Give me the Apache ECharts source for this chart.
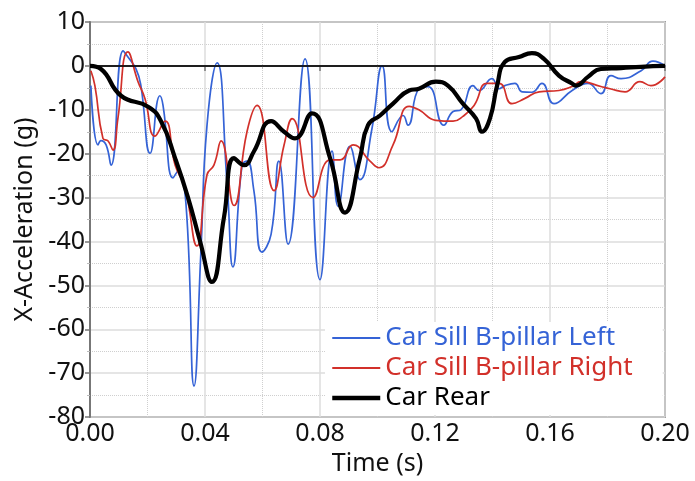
<!DOCTYPE html>
<html>
<head>
<meta charset="utf-8">
<script src="https://cdn.jsdelivr.net/npm/echarts@6/dist/echarts.min.js"></script>
<style>html,body{margin:0;padding:0;background:#fff}#c{width:695px;height:481px}</style>
</head>
<body>
<div id="c"></div>
<script>
const seriesNames = ['Car Sill B-pillar Left', 'Car Sill B-pillar Right', 'Car Rear'];
const xTicks = [0, 0.04, 0.08, 0.12, 0.16, 0.2];
const yTicks = [-80, -70, -60, -50, -40, -30, -20, -10, 0, 10];

const leftT = [0.0003,0.0028,0.0038,0.0056,0.0073,0.0115,0.0132,0.0160,0.0177,0.0209,0.0243,0.0254,0.0289,0.0306,0.0334,0.0362,0.0386,0.0407,0.0442,0.0477,0.0497,0.0529,0.0546,0.0570,0.0598,0.0630,0.0657,0.0689,0.0748,0.0800,0.0842,0.0863,0.0904,0.0939,0.0981,0.1016,0.1050,0.1089,0.1106,0.1144,0.1176,0.1231,0.1263,0.1290,0.1332,0.1353,0.1398,0.1423,0.1443,0.1478,0.1503,0.1537,0.1572,0.1614,0.1677,0.1732,0.1777,0.1812,0.1847,0.1917,0.1958,0.2000];
const leftV = [-4.5,-18,-17,-18,-22.6,3.4,2,-0.7,-4.5,-19.9,-6.8,-9,-25.5,-24,-31.6,-72.9,-42,-13.5,0.7,-27,-45.8,-22.6,-21.7,-28.4,-42.4,-38.3,-21.7,-40.6,1.6,-48.7,-19.4,-32,-18.3,-25.9,-14.2,0,-15,-11.3,-13.5,-5.2,-4.7,-13.5,-10.4,-10,-4.5,-5.6,-2.9,-5.2,-4.5,-4,-5.9,-6,-4,-8.6,-5.6,-4,-6.3,-2.2,-2.9,-1.1,1.1,0];

const rightT = [0.0003,0.0017,0.0045,0.0063,0.0080,0.0097,0.0132,0.0167,0.0191,0.0226,0.0261,0.0296,0.0330,0.0372,0.0407,0.0431,0.0456,0.0501,0.0546,0.0581,0.0640,0.0675,0.0703,0.0776,0.0835,0.0870,0.0915,0.0974,0.1005,0.1054,0.1110,0.1144,0.1203,0.1263,0.1297,0.1336,0.1381,0.1423,0.1468,0.1513,0.1562,0.1631,0.1677,0.1708,0.1777,0.1809,0.1861,0.1913,0.1951,0.2000];
const rightV = [-1.1,-4.5,-16.5,-17.1,-19.2,-12,3.2,-3.6,-7.4,-16,-12.6,-22.6,-27.7,-41,-24.8,-22.6,-17.1,-31.8,-15,-9,-28.4,-18,-12,-30,-21.4,-21.4,-18,-21.7,-23.2,-18,-9.2,-10,-12.4,-12.6,-11.5,-9,-4,-4,-8.6,-7.4,-5.9,-5.6,-4.7,-3.6,-4.7,-5.2,-5.9,-3.6,-4.5,-2.5];

const rearT = [0,0.0038,0.0108,0.0202,0.0247,0.0296,0.0341,0.0383,0.0424,0.0466,0.0501,0.0536,0.0570,0.0630,0.0675,0.0713,0.0772,0.0835,0.0887,0.0939,0.0967,0.1009,0.1054,0.1110,0.1144,0.1203,0.1245,0.1297,0.1343,0.1363,0.1391,0.1416,0.1443,0.1492,0.1537,0.1579,0.1631,0.1677,0.1690,0.1732,0.1777,0.1847,0.1917,0.2000];
const rearV = [0,-0.7,-6.8,-9.3,-12.6,-21,-30,-40,-49.2,-34.5,-21,-22.6,-19.5,-12.6,-15,-16.5,-10.8,-21,-33.4,-21,-13.5,-11.3,-8.6,-5.6,-5.2,-3.6,-4.5,-8.6,-12,-15,-12,-4.5,0.9,2,2.9,1.6,-2.2,-4,-4.5,-2.5,-0.7,-0.5,-0.2,0];

const colors = ['#3563d6', '#d2302a', '#000000'];
const widths = [1.7, 1.7, 4.2];
const tList = [leftT, rightT, rearT];
const vList = [leftV, rightV, rearV];

const FONT = 'Noto Sans';
const chart = echarts.init(document.getElementById('c'), null, {renderer: 'canvas'});

const series = seriesNames.map((n, i) => ({
  name: n,
  type: 'line',
  data: tList[i].map((t, k) => [t, vList[i][k]]),
  smooth: 0.5,
  symbol: 'none',
  lineStyle: {color: colors[i], width: widths[i]},
  itemStyle: {color: colors[i]},
  z: 3 + i,
  animation: false
}));
series[0].markLine = {
  silent: true, symbol: 'none', label: {show: false},
  lineStyle: {color: '#000', width: 1.5, type: 'solid'},
  data: [{yAxis: 0}], animation: false
};

chart.setOption({
  backgroundColor: '#fff',
  animation: false,
  grid: {left: 90, top: 22, right: 30, bottom: 60, show: true, borderColor: '#555', borderWidth: 1.5, backgroundColor: 'transparent'},
  xAxis: {
    type: 'value', min: xTicks[0], max: xTicks[xTicks.length - 1], interval: 0.04,
    name: 'Time (s)', nameLocation: 'middle', nameGap: 28,
    nameTextStyle: {fontFamily: FONT, fontSize: 25, color: '#111'},
    axisLine: {show: true, lineStyle: {color: '#777', width: 2}},
    axisTick: {show: true, length: 5, lineStyle: {color: '#777', width: 1.5}},
    axisLabel: {fontFamily: FONT, fontSize: 25, color: '#111', margin: 4, formatter: v => v.toFixed(2)},
    splitLine: {show: true, lineStyle: {color: '#dcdcdc', width: 1.5}},
    minorTick: {show: true, splitNumber: 2, length: 3, lineStyle: {color: '#bbb'}},
    minorSplitLine: {show: true, lineStyle: {color: '#cfcfcf', type: 'dotted', width: 1}}
  },
  yAxis: {
    type: 'value', min: yTicks[0], max: yTicks[yTicks.length - 1], interval: 10,
    name: 'X-Acceleration (g)', nameLocation: 'middle', nameGap: 52, nameRotate: 90,
    nameTextStyle: {fontFamily: FONT, fontSize: 25, color: '#111'},
    axisLine: {show: true, lineStyle: {color: '#777', width: 2}},
    axisTick: {show: true, length: 5, lineStyle: {color: '#777', width: 1.5}},
    axisLabel: {fontFamily: FONT, fontSize: 25, color: '#111', margin: 5},
    splitLine: {show: true, lineStyle: {color: '#dcdcdc', width: 1.5}},
    minorTick: {show: true, splitNumber: 2, length: 3, lineStyle: {color: '#bbb'}},
    minorSplitLine: {show: true, lineStyle: {color: '#cfcfcf', type: 'dotted', width: 1}}
  },
  legend: {
    orient: 'vertical', left: 325, top: 322,
    itemWidth: 48, itemHeight: 14, itemGap: 4,
    padding: [3, 30, 4, 5],
    backgroundColor: '#fff',
    itemStyle: {opacity: 0, borderWidth: 0},
    data: seriesNames.map((n, i) => ({
      name: n,
      textStyle: {color: colors[i]},
      lineStyle: {color: colors[i], width: i === 2 ? 4.5 : 2}
    })),
    textStyle: {fontFamily: FONT, fontSize: 26, padding: [0, 0, 0, 0]}
  },
  series: series
});
</script>
</body>
</html>
